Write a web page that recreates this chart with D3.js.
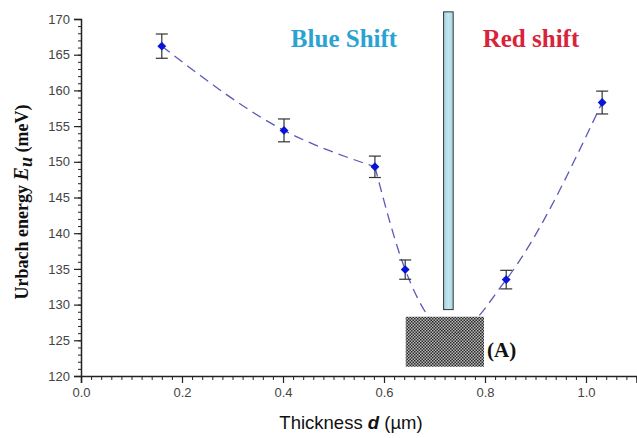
<!DOCTYPE html>
<html>
<head>
  <meta charset="utf-8">
  <title>Urbach energy vs thickness</title>
  <style>
    body { margin: 0; background: #fff; }
    .tick text { font-family: "Liberation Sans", Arial, sans-serif; font-size: 13px; fill: #444; }
    .serif { font-family: "Liberation Serif", "Times New Roman", serif; font-weight: bold; }
  </style>
</head>
<body>
  <div class="chart-container"></div>
  <script src="https://cdn.jsdelivr.net/npm/d3@7"></script>
  <script>
    // measured values (thickness in um, Urbach energy in meV)
    var thickness = [0.16, 0.402, 0.582, 0.642, 0.842, 1.032];
    var urbach = [166.2, 154.4, 149.3, 134.9, 133.5, 158.3];
    var urbachErr = [1.7, 1.6, 1.5, 1.35, 1.3, 1.6];
    // fitted guide curve passes a minimum hidden under box (A)
    var curveX = [0.16, 0.402, 0.582, 0.642, 0.735, 0.842, 1.032];
    var curveY = [166.2, 154.4, 149.3, 134.9, 125.9, 133.5, 158.3];
    var xTicks = [0, 0.2, 0.4, 0.6, 0.8, 1.0];
    var yTicks = [120, 125, 130, 135, 140, 145, 150, 155, 160, 165, 170];
    // marker regions
    var barX = [0.718, 0.737];
    var barY = [129.3, 171];
    var boxX = [0.643, 0.798];
    var boxY = [121.3, 128.3];

    var width = 637, height = 438;

    var x = d3.scaleLinear().domain([0, 1.1]).range([81, 636.5]);
    var y = d3.scaleLinear().domain([120, 170]).range([376, 19]);

    var svg = d3.select('.chart-container').append('svg')
      .attr('width', width)
      .attr('height', height);

    var defs = svg.append('defs');
    var pat = defs.append('pattern')
      .attr('id', 'checker')
      .attr('width', 3)
      .attr('height', 3)
      .attr('patternUnits', 'userSpaceOnUse');
    pat.append('rect').attr('width', 3).attr('height', 3).attr('fill', '#b0b0b0');
    pat.append('rect').attr('width', 1.5).attr('height', 1.5).attr('fill', '#111');
    pat.append('rect').attr('x', 1.5).attr('y', 1.5).attr('width', 1.5).attr('height', 1.5).attr('fill', '#111');

    var grad = defs.append('linearGradient').attr('id', 'barfill')
      .attr('x1', 0).attr('x2', 1).attr('y1', 0).attr('y2', 0);
    grad.append('stop').attr('offset', '0%').attr('stop-color', '#9fd3dc');
    grad.append('stop').attr('offset', '50%').attr('stop-color', '#c4e8ee');
    grad.append('stop').attr('offset', '100%').attr('stop-color', '#a3d6de');

    // axes: minor ticks first, then major
    var xMinor = d3.range(0, 1.1001, 0.02);
    var yMinor = d3.range(120, 170.001, 1);

    svg.append('g')
      .attr('transform', 'translate(0,' + y(120) + ')')
      .call(d3.axisBottom(x).tickValues(xMinor).tickSize(4).tickFormat(''))
      .call(function (g) { g.selectAll('line').attr('stroke', '#222'); g.select('.domain').remove(); });
    svg.append('g')
      .attr('transform', 'translate(0,' + y(120) + ')')
      .call(d3.axisBottom(x).tickValues(xTicks).tickSize(7).tickPadding(5).tickFormat(d3.format('.1f')))
      .call(function (g) {
        g.selectAll('line').attr('stroke', '#222').attr('stroke-width', 1.2);
        g.select('.domain').attr('stroke', '#222').attr('stroke-width', 1.5);
      });

    svg.append('g')
      .attr('transform', 'translate(' + x(0) + ',0)')
      .call(d3.axisLeft(y).tickValues(yMinor).tickSize(3).tickFormat(''))
      .call(function (g) { g.selectAll('line').attr('stroke', '#222'); g.select('.domain').remove(); });
    svg.append('g')
      .attr('transform', 'translate(' + x(0) + ',0)')
      .call(d3.axisLeft(y).tickValues(yTicks).tickSize(7).tickPadding(4))
      .call(function (g) {
        g.selectAll('line').attr('stroke', '#222').attr('stroke-width', 1.2);
        g.select('.domain').attr('stroke', '#222').attr('stroke-width', 1.5);
      });

    // guide curve, with a kink at the 0.58 um point
    var curvePts = curveX.map(function (d, i) { return [d, curveY[i]]; });
    var line = d3.line()
      .x(function (d) { return x(d[0]); })
      .y(function (d) { return y(d[1]); })
      .curve(d3.curveMonotoneX);

    svg.selectAll('path.fit')
      .data([curvePts.slice(0, 3), curvePts.slice(2)])
      .enter().append('path')
      .attr('class', 'fit')
      .attr('d', line)
      .attr('fill', 'none')
      .attr('stroke', '#5a5ab8')
      .attr('stroke-width', 1.3)
      .attr('stroke-dasharray', '10,6');

    // box (A)
    svg.append('rect')
      .attr('x', x(boxX[0]))
      .attr('y', y(boxY[1]))
      .attr('width', x(boxX[1]) - x(boxX[0]))
      .attr('height', y(boxY[0]) - y(boxY[1]))
      .attr('fill', 'url(#checker)')
      .attr('opacity', 0.9);

    svg.append('text')
      .attr('class', 'serif')
      .attr('x', x(boxX[1]) + 3)
      .attr('y', y(123.7) + 7)
      .style('font-size', '21px')
      .attr('fill', '#111')
      .text('(A)');

    // separator bar
    svg.append('rect')
      .attr('x', x(barX[0]))
      .attr('y', y(barY[1]))
      .attr('width', x(barX[1]) - x(barX[0]))
      .attr('height', y(barY[0]) - y(barY[1]))
      .attr('fill', 'url(#barfill)')
      .attr('stroke', '#333')
      .attr('stroke-width', 1);

    // error bars
    var pts = thickness.map(function (d, i) { return { x: d, y: urbach[i], e: urbachErr[i] }; });
    var eb = svg.append('g').attr('stroke', '#333').attr('stroke-width', 1.2);
    eb.selectAll('line.v').data(pts).enter().append('line')
      .attr('x1', function (d) { return x(d.x); })
      .attr('x2', function (d) { return x(d.x); })
      .attr('y1', function (d) { return y(d.y + d.e); })
      .attr('y2', function (d) { return y(d.y - d.e); });
    eb.selectAll('line.t').data(pts).enter().append('line')
      .attr('x1', function (d) { return x(d.x) - 6; })
      .attr('x2', function (d) { return x(d.x) + 6; })
      .attr('y1', function (d) { return y(d.y + d.e); })
      .attr('y2', function (d) { return y(d.y + d.e); });
    eb.selectAll('line.b').data(pts).enter().append('line')
      .attr('x1', function (d) { return x(d.x) - 6; })
      .attr('x2', function (d) { return x(d.x) + 6; })
      .attr('y1', function (d) { return y(d.y - d.e); })
      .attr('y2', function (d) { return y(d.y - d.e); });

    // diamonds
    svg.selectAll('path.pt').data(pts).enter().append('path')
      .attr('class', 'pt')
      .attr('d', d3.symbol().type(d3.symbolDiamond2).size(50))
      .attr('transform', function (d) { return 'translate(' + x(d.x) + ',' + y(d.y) + ')'; })
      .attr('fill', '#0a14d8');

    // shift labels
    svg.append('text')
      .attr('class', 'serif')
      .attr('x', 344).attr('y', 47)
      .attr('text-anchor', 'middle')
      .style('font-size', '25px')
      .attr('fill', '#2aa3d3')
      .text('Blue Shift');
    svg.append('text')
      .attr('class', 'serif')
      .attr('x', 531).attr('y', 47)
      .attr('text-anchor', 'middle')
      .style('font-size', '25px')
      .attr('fill', '#d8243a')
      .text('Red shift');

    // axis titles
    var yl = svg.append('text')
      .attr('class', 'serif')
      .attr('transform', 'translate(28,' + 202 + ') rotate(-90)')
      .attr('text-anchor', 'middle')
      .style('font-size', '18px')
      .attr('fill', '#111');
    yl.append('tspan').text('Urbach energy ');
    yl.append('tspan').style('font-style', 'italic').style('font-size', '20px').text('E');
    yl.append('tspan').style('font-style', 'italic').attr('dy', 4).text('u');
    yl.append('tspan').attr('dy', -4).text(' (meV)');

    var xl = svg.append('text')
      .attr('x', 351).attr('y', 429)
      .attr('text-anchor', 'middle')
      .style('font-family', '"Liberation Sans", Arial, sans-serif')
      .style('font-size', '18.5px')
      .attr('fill', '#111');
    xl.append('tspan').text('Thickness ');
    xl.append('tspan').style('font-style', 'italic').style('font-weight', 'bold').text('d');
    xl.append('tspan').text(' (\u00b5m)');
  </script>
</body>
</html>
